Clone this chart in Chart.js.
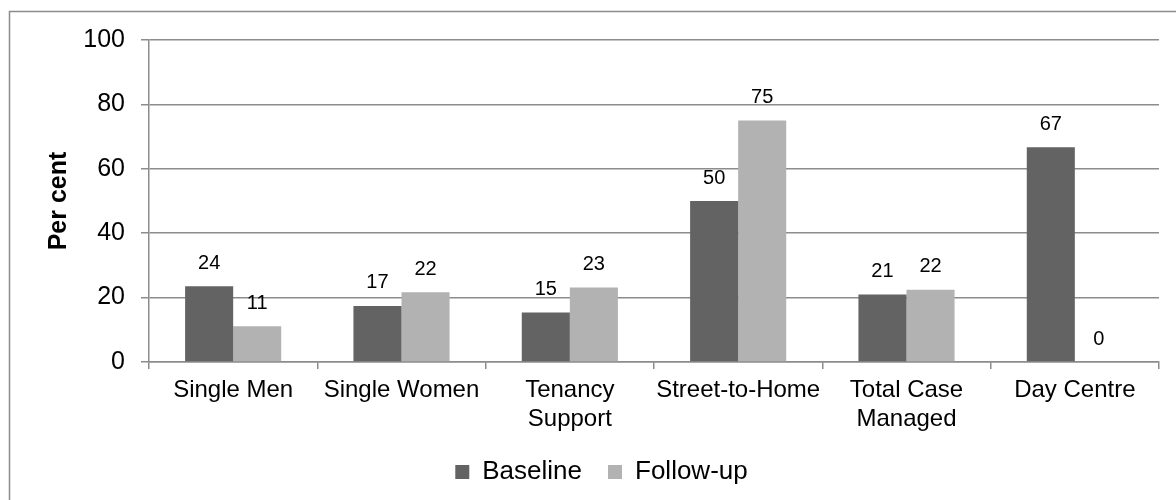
<!DOCTYPE html>
<html>
<head>
<meta charset="utf-8">
<style>
  html, body { margin: 0; padding: 0; background: #ffffff; }
  #wrap { position: relative; width: 1176px; height: 500px; }
</style>
<script src="https://cdn.jsdelivr.net/npm/chart.js@4/dist/chart.umd.min.js"></script>
</head>
<body>
<div id="wrap"><canvas id="chart" width="1176" height="500"></canvas></div>
<script>
// Service types
const categories = [
  'Single Men',
  'Single Women',
  ['Tenancy', 'Support'],
  'Street-to-Home',
  ['Total Case', 'Managed'],
  'Day Centre'
];

// Per cent of clients, by survey wave
const baseline = [23.5, 17.4, 15.4, 50.0, 21.0, 66.7];
const followUp = [11.1, 21.7, 23.1, 75.0, 22.4, 0.0];

const seriesNames = ['Baseline', 'Follow-up'];
const yTicks = [0, 20, 40, 60, 80, 100];

const FONT = "'Liberation Sans', Arial, sans-serif";

// Thin frame around the whole chart
const framePlugin = {
  id: 'frame',
  beforeDraw(chart) {
    const ctx = chart.ctx;
    ctx.save();
    ctx.fillStyle = '#ffffff';
    ctx.fillRect(0, 0, chart.width, chart.height);
    ctx.strokeStyle = '#8c8c8c';
    ctx.lineWidth = 1.5;
    ctx.strokeRect(9.5, 11.5, chart.width + 50, chart.height + 50);
    ctx.restore();
  }
};

// Rounded value printed above each bar
const valueLabels = {
  id: 'valueLabels',
  afterDatasetsDraw(chart) {
    const ctx = chart.ctx;
    ctx.save();
    ctx.font = '20px ' + FONT;
    ctx.fillStyle = '#000000';
    ctx.textAlign = 'center';
    ctx.textBaseline = 'middle';
    chart.data.datasets.forEach((ds, di) => {
      const meta = chart.getDatasetMeta(di);
      meta.data.forEach((bar, i) => {
        ctx.fillText(String(Math.round(ds.data[i])), bar.x, bar.y - 23);
      });
    });
    ctx.restore();
  }
};

new Chart(document.getElementById('chart'), {
  type: 'bar',
  data: {
    labels: categories,
    datasets: [
      { label: seriesNames[0], data: baseline, backgroundColor: '#636363', borderWidth: 0 },
      { label: seriesNames[1], data: followUp, backgroundColor: '#b2b2b2', borderWidth: 0 }
    ]
  },
  plugins: [framePlugin, valueLabels],
  options: {
    responsive: false,
    animation: false,
    devicePixelRatio: 1,
    layout: { padding: { left: 44, right: 17, top: 40, bottom: 5 } },
    datasets: { bar: { categoryPercentage: 0.571, barPercentage: 1.0 } },
    plugins: {
      tooltip: { enabled: false },
      legend: {
        position: 'bottom',
        labels: {
          boxWidth: 14,
          boxHeight: 14,
          padding: 26,
          color: '#000000',
          font: { family: FONT, size: 26 }
        }
      }
    },
    scales: {
      x: {
        offset: true,
        grid: {
          offset: true,
          drawOnChartArea: false,
          drawTicks: true,
          tickLength: 7,
          color: '#8c8c8c',
          lineWidth: 1.5
        },
        border: { color: '#8c8c8c', width: 1.5 },
        ticks: {
          color: '#000000',
          padding: 7,
          maxRotation: 0,
          autoSkip: false,
          font: { family: FONT, size: 24 }
        },
        afterFit(scale) { scale.height = 71; }
      },
      y: {
        min: 0,
        max: 100,
        afterBuildTicks(scale) { scale.ticks = yTicks.map(v => ({ value: v })); },
        grid: {
          color: '#8c8c8c',
          lineWidth: 1.5,
          drawTicks: true,
          tickLength: 8
        },
        border: { color: '#8c8c8c', width: 1.5 },
        ticks: {
          color: '#000000',
          padding: 16,
          font: { family: FONT, size: 25 }
        },
        title: {
          display: true,
          text: 'Per cent',
          color: '#000000',
          padding: 0,
          font: { family: FONT, size: 25, weight: 'bold' }
        },
        afterFit(scale) { scale.width = 105; }
      }
    }
  }
});
</script>
</body>
</html>
